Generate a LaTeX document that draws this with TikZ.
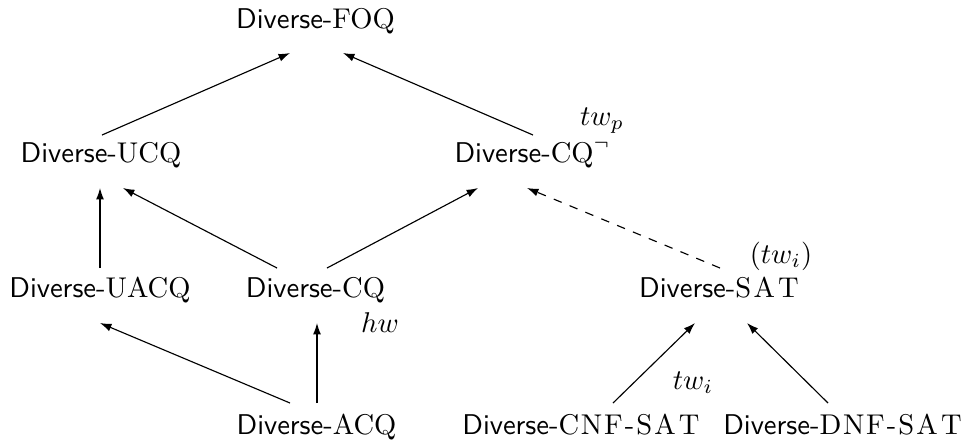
\documentclass[tikz,border=0pt]{standalone}
\usetikzlibrary{arrows.meta,calc}
\newcommand{\satword}{\mathrm{S}\kern0.8pt\mathrm{A}\kern1.1pt\mathrm{T}}
\newcommand{\dash}{\kern0.7pt\mbox{-}\kern0.7pt}
\begin{document}
\begin{tikzpicture}[x=0.35pt,y=-0.35pt,
  lbl/.style={inner sep=0pt,anchor=base},
  arr/.style={-{Latex[length=4pt,width=2.8pt]},line width=0.4pt},
  darr/.style={arr,dashed}]
\useasboundingbox (0,0) rectangle (973,441);
\node[lbl] (foq)  at (315.5,28)  {\textsf{Diverse-}$\mathrm{FOQ}$};
\node[lbl] (ucq)  at (101,162)   {\textsf{Diverse-}$\mathrm{UCQ}$};
\node[lbl] (cqn)  at (532.5,162) {\textsf{Diverse-}$\mathrm{CQ}^{\neg}$};
\node[lbl] (uacq) at (100,297)   {\textsf{Diverse-}$\mathrm{UACQ}$};
\node[lbl] (cq)   at (315.5,297) {\textsf{Diverse-}$\mathrm{CQ}$};
\node[lbl] (sat)  at (719,297)   {\textsf{Diverse-}$\satword$};
\node[lbl] (acq)  at (316.5,434) {\textsf{Diverse-}$\mathrm{ACQ}$};
\node[lbl] (cnf)  at (581,434)   {\textsf{Diverse-}$\mathrm{C}\kern0.6pt\mathrm{N}\kern0.6pt\mathrm{F}\dash\satword$};
\node[lbl] (dnf)  at (842.5,434) {\textsf{Diverse-}$\mathrm{D}\kern0.6pt\mathrm{N}\kern0.6pt\mathrm{F}\dash\satword$};
\node[lbl] (twp)  at (602,125)   {$tw_p$};
\node[lbl] (twi1) at (781,263)   {$(tw_i)$};
\node[lbl] (hw)   at (380,332)   {$hw$};
\node[lbl] (twi2) at (693,389)   {$tw_i$};
\draw[arr] ($(ucq.base)+(1,-27)$) -- ($(foq.base)+(-25.5,25)$);
\draw[arr] ($(cqn.base)+(0.5,-27)$) -- ($(foq.base)+(27.5,25)$);
\draw[arr] ($(uacq.base)+(0,-29)$) -- ($(ucq.base)+(-1,26)$);
\draw[arr] ($(cq.base)+(-38.5,-29)$) -- ($(ucq.base)+(22,26)$);
\draw[arr] ($(cq.base)+(11.5,-29)$) -- ($(cqn.base)+(-54.5,26)$);
\draw[darr] ($(sat.base)+(1,-29)$) -- ($(cqn.base)+(-5.5,26)$);
\draw[arr] ($(acq.base)+(-26.5,-31)$) -- ($(uacq.base)+(0,26)$);
\draw[arr] ($(acq.base)+(0.5,-31)$) -- ($(cq.base)+(1.5,26)$);
\draw[arr] ($(cnf.base)+(32,-31)$) -- ($(sat.base)+(-24,26)$);
\draw[arr] ($(dnf.base)+(-14.5,-31)$) -- ($(sat.base)+(28,26)$);
\end{tikzpicture}
\end{document}
